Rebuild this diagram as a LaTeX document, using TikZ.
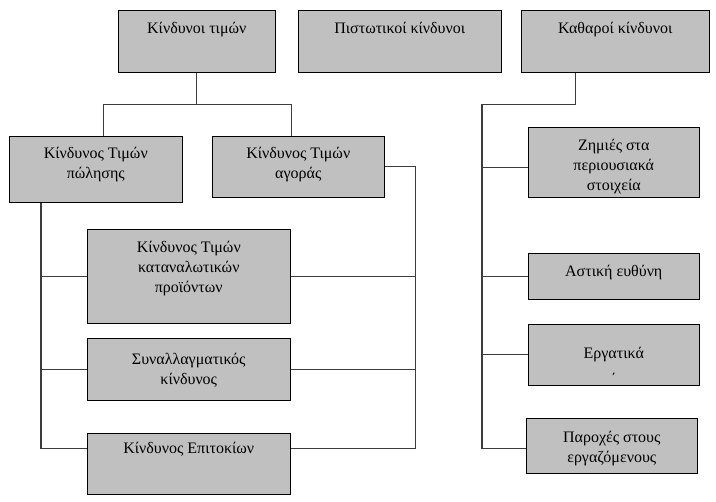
\documentclass[tikz,border=0pt]{standalone}
\usepackage{fontspec}
\setmainfont{Liberation Serif}
\definecolor{boxfill}{RGB}{192,192,192}
\definecolor{wirecol}{RGB}{60,60,60}
\usetikzlibrary{positioning,calc}

\begin{document}
\begin{tikzpicture}[x=0.75pt,y=-0.75pt,
    riskbox/.style={draw=black,fill=boxfill,inner sep=0pt,anchor=north west,
      align=center,font=\fontsize{12}{15}\selectfont},
    wire/.style={draw=wirecol,line width=0.8pt}]
  \useasboundingbox[fill=white] (0,0) rectangle (716,502);
  % top row
  \node[riskbox,minimum width=117.75pt,text height=17.25pt,text depth=29.25pt] (prices) at (118,10) {Κίνδυνοι τιμών};
  \node[riskbox,minimum width=152.25pt,text height=17.25pt,text depth=29.25pt] (credit) at (298,10) {Πιστωτικοί κίνδυνοι};
  \node[riskbox,minimum width=141pt,text height=17.25pt,text depth=29.25pt] (pure) at (521,10) {Καθαροί κίνδυνοι};
  % price risks
  \node[riskbox,minimum width=129.75pt,text height=31.5pt,text depth=18pt] (sale) at (9,136) {Κίνδυνος Τιμών\\πώλησης};
  \node[riskbox,minimum width=129pt,text height=31.5pt,text depth=14.25pt] (buy) at (212,136) {Κίνδυνος Τιμών\\αγοράς};
  \node[riskbox,minimum width=152.25pt,text height=47.25pt,text depth=23.25pt] (consumer) at (87,229) {Κίνδυνος Τιμών\\καταναλωτικών\\προϊόντων};
  \node[riskbox,minimum width=152.25pt,text height=34.5pt,text depth=12pt] (fx) at (87,338) {Συναλλαγματικός\\κίνδυνος};
  \node[riskbox,minimum width=152.25pt,text height=15pt,text depth=30.75pt] (rates) at (87,433) {Κίνδυνος Επιτοκίων};
  % pure risks
  \node[riskbox,minimum width=128.25pt,text height=47.25pt,text depth=5.25pt] (loss) at (528,127) {Ζημιές στα\\περιουσιακά\\στοιχεία};
  \node[riskbox,minimum width=128.25pt,text height=17.25pt,text depth=17.25pt] (liab) at (528,253) {Αστική ευθύνη};
  \node[riskbox,minimum width=128.25pt,text height=45.5pt,text depth=0.25pt] (labour) at (528,324) {Εργατικά\\[5pt]΄};
  \node[riskbox,minimum width=128.25pt,text height=33pt,text depth=8.25pt] (benef) at (526,418) {Παροχές στους\\εργαζόμενους};

  % connectors, price group
  \draw[wire] (prices.south) -- ++(0,32) coordinate (pricefork);
  \draw[wire] ($(sale.north)+(7.5,0)$) |- (pricefork) -| ($(buy.north)+(-7,0)$);
  \draw[wire] ($(sale.south west)+(32,0)$) |- ($(rates.west)+(0,-15.5)$);
  \draw[wire] (consumer.west) -- ++(-46,0);
  \draw[wire] (fx.west) -- ++(-46,0);
  \draw[wire] (buy.east) -- ++(31,0) |- ($(rates.east)+(0,-15.5)$);
  \draw[wire] (consumer.east) -- ++(125,0);
  \draw[wire] (fx.east) -- ++(125,0);
  % connectors, pure group
  \draw[wire] ($(pure.south)+(-40,0)$) -- ++(0,32) -| ($(benef.west)+(-44,2.5)$) -- ($(benef.west)+(0,2.5)$);
  \draw[wire] ($(loss.west)+(0,5)$) -- ++(-46,0);
  \draw[wire] (liab.west) -- ++(-46,0);
  \draw[wire] (labour.west) -- ++(-46,0);
\end{tikzpicture}
\end{document}
